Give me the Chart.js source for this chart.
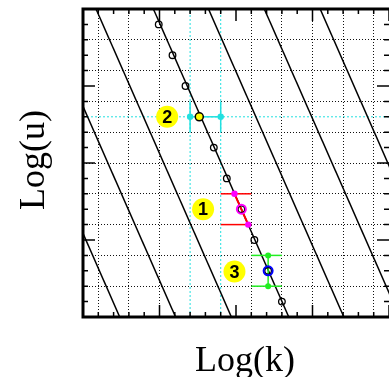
<!DOCTYPE html>
<html>
<head>
<meta charset="utf-8">
<script src="https://cdn.jsdelivr.net/npm/chart.js@4.4.1/dist/chart.umd.min.js"></script>
<style>
  html, body { margin: 0; padding: 0; background: #fff; }
  canvas { display: block; }
</style>
</head>
<body>
<canvas id="myChart" width="389" height="377"></canvas>
<script>
// family of parallel lines: log(k) where each line meets log(u) = 0, and their slope
const lineBottoms = [0.48, 1.21, 1.94, 2.69, 3.41, 4.14, 4.87];
const lineSlope = -2.26;

// points along the main line
const pointLogK = [0.99, 1.17, 1.34, 1.52, 1.71, 1.88, 2.07, 2.24, 2.42, 2.60];
const pointLogU = [3.8, 3.4, 3.0, 2.6, 2.2, 1.8, 1.4, 1.0, 0.6, 0.2];

// case 1 (magenta / red)
const case1LogK = [1.98, 2.07, 2.16];
const case1LogU = [1.6, 1.4, 1.2];
const case1BarK = [1.8, 2.2];

// case 2 (yellow / cyan)
const case2LogK = 1.52, case2LogU = 2.6;
const case2BarK = [1.4, 1.8];
const case2CapU = [2.4, 2.8];

// case 3 (blue / green)
const case3LogK = 2.42, case3LogU = 0.6;
const case3BarU = [0.4, 0.8];
const case3CapK = [2.2, 2.6];

// numbered labels
const labelText = ['1', '2', '3'];
const labelLogK = [1.57, 1.10, 1.98];
const labelLogU = [1.40, 2.60, 0.59];

const cyan = '#22e0e0';
const pts = (xs, ys) => xs.map((x, i) => ({x: x, y: ys[i]}));
const seg = (x1, y1, x2, y2, color, w, dash) => ({
    data: [{x: x1, y: y1}, {x: x2, y: y2}], showLine: true,
    borderColor: color, borderWidth: w, borderDash: dash || [], pointRadius: 0
});

const datasets = [];
// rings around the special points (drawn on top)
datasets.push({data: [{x: case3LogK, y: case3LogU}], pointRadius: 4.5, pointBorderWidth: 2,
    pointBorderColor: '#0000ff', pointBackgroundColor: 'rgba(0,0,0,0)'});
datasets.push({data: [{x: case1LogK[1], y: case1LogU[1]}], pointRadius: 4.5, pointBorderWidth: 2,
    pointBorderColor: '#ff00ff', pointBackgroundColor: 'rgba(0,0,0,0)'});
datasets.push({data: [{x: case2LogK, y: case2LogU}], pointRadius: 4, pointBorderWidth: 1.5,
    pointBorderColor: '#000', pointBackgroundColor: '#ffff00'});
// black circles
datasets.push({data: pts(pointLogK, pointLogU), pointRadius: 3.3, pointBorderWidth: 1.3,
    pointBorderColor: '#000', pointBackgroundColor: 'rgba(0,0,0,0)'});
// case 1 end points + red segment + red bars
datasets.push({data: [{x: case1LogK[0], y: case1LogU[0]}, {x: case1LogK[2], y: case1LogU[2]}],
    pointRadius: 3.2, pointBorderWidth: 0, pointBackgroundColor: '#ff00ff'});
datasets.push(seg(case1LogK[0], case1LogU[0], case1LogK[2], case1LogU[2], '#ff0000', 2));
datasets.push(seg(case1BarK[0], case1LogU[0], case1BarK[1], case1LogU[0], '#ff0000', 1.5));
datasets.push(seg(case1BarK[0], case1LogU[2], case1BarK[1], case1LogU[2], '#ff0000', 1.5));
// case 2 cyan bar
datasets.push({data: [{x: case2BarK[0], y: case2LogU}, {x: case2BarK[1], y: case2LogU}],
    showLine: true, borderColor: cyan, borderWidth: 1.5, pointRadius: 3.2, pointBorderWidth: 0,
    pointBackgroundColor: cyan});
datasets.push(seg(case2BarK[0], case2CapU[0], case2BarK[0], case2CapU[1], cyan, 1.5));
datasets.push(seg(case2BarK[1], case2CapU[0], case2BarK[1], case2CapU[1], cyan, 1.5));
// case 3 green bar
datasets.push({data: [{x: case3LogK, y: case3BarU[0]}, {x: case3LogK, y: case3BarU[1]}],
    showLine: true, borderColor: '#22ee22', borderWidth: 1.5, pointRadius: 3, pointBorderWidth: 0,
    pointBackgroundColor: '#22ee22'});
datasets.push(seg(case3CapK[0], case3BarU[0], case3CapK[1], case3BarU[0], '#22ee22', 1.5));
datasets.push(seg(case3CapK[0], case3BarU[1], case3CapK[1], case3BarU[1], '#22ee22', 1.5));
// yellow label bubbles
datasets.push({data: pts(labelLogK, labelLogU), pointRadius: 11, pointBorderWidth: 0,
    pointBackgroundColor: '#ffff00'});
// family of lines
lineBottoms.forEach(b => datasets.push(seg(b, 0, b + 4 / lineSlope, 4, '#000', 1.5)));
// cyan dotted guide lines through case 2
datasets.push(seg(case2BarK[0], 0, case2BarK[0], 4, cyan, 1, [2, 2]));
datasets.push(seg(case2BarK[1], 0, case2BarK[1], 4, cyan, 1, [2, 2]));
datasets.push(seg(0, case2LogU, 4, case2LogU, cyan, 1, [2, 2]));

// frame, inward ticks, axis titles and label numbers
const framePlugin = {
    id: 'frame',
    afterDatasetsDraw(chart) {
        const {ctx, chartArea: a, scales: {x, y}} = chart;
        ctx.save();
        ctx.strokeStyle = '#000';
        ctx.lineWidth = 1.5;
        ctx.beginPath();
        for (let i = 0; i <= 20; i++) {
            const v = i / 5;
            const len = (i % 5 === 0) ? 12 : 5;
            const px = x.getPixelForValue(v);
            const py = y.getPixelForValue(v);
            ctx.moveTo(px, a.bottom); ctx.lineTo(px, a.bottom - len);
            ctx.moveTo(px, a.top); ctx.lineTo(px, a.top + len);
            ctx.moveTo(a.left, py); ctx.lineTo(a.left + len, py);
            ctx.moveTo(a.right, py); ctx.lineTo(a.right - len, py);
        }
        ctx.stroke();
        ctx.lineWidth = 3;
        ctx.strokeRect(a.left, a.top, a.right - a.left + 2, a.bottom - a.top);

        ctx.fillStyle = '#000';
        ctx.font = 'bold 18px "Liberation Sans"';
        ctx.textAlign = 'center';
        ctx.textBaseline = 'middle';
        labelText.forEach((t, i) => {
            ctx.fillText(t, x.getPixelForValue(labelLogK[i]), y.getPixelForValue(labelLogU[i]) + 1);
        });

        ctx.font = '36px "Liberation Serif"';
        ctx.textBaseline = 'alphabetic';
        ctx.fillText('Log(k)', 245, 371);
        ctx.save();
        ctx.translate(44, 160);
        ctx.rotate(-Math.PI / 2);
        ctx.fillText('Log(u)', 0, 0);
        ctx.restore();
        ctx.restore();
    }
};

const gridColor = (c, keep) => keep(Math.round(c.tick.value * 10)) ? '#111' : 'rgba(0,0,0,0)';

const ctx = document.getElementById('myChart').getContext('2d');
const myChart = new Chart(ctx, {
    type: 'scatter',
    data: {datasets: datasets},
    options: {
        responsive: false,
        animation: false,
        devicePixelRatio: 1,
        layout: {autoPadding: false, padding: {left: 83, top: 9, right: 0, bottom: 60}},
        plugins: {legend: {display: false}, tooltip: {enabled: false}},
        scales: {
            x: {
                type: 'linear', min: 0, max: 4,
                ticks: {display: false, stepSize: 0.2, maxTicksLimit: 100, autoSkip: false},
                grid: {
                    drawTicks: false, lineWidth: 1,
                    color: c => gridColor(c, v => v % 4 === 2 && v !== 14 && v !== 18)
                },
                border: {display: false, dash: [1, 2]}
            },
            y: {
                type: 'linear', min: 0, max: 4,
                ticks: {display: false, stepSize: 0.2, maxTicksLimit: 100, autoSkip: false},
                grid: {
                    drawTicks: false, lineWidth: 1,
                    color: c => gridColor(c, v => v % 4 === 0 && v > 0 && v < 40)
                },
                border: {display: false, dash: [1, 2]}
            }
        }
    },
    plugins: [framePlugin]
});
</script>
</body>
</html>
